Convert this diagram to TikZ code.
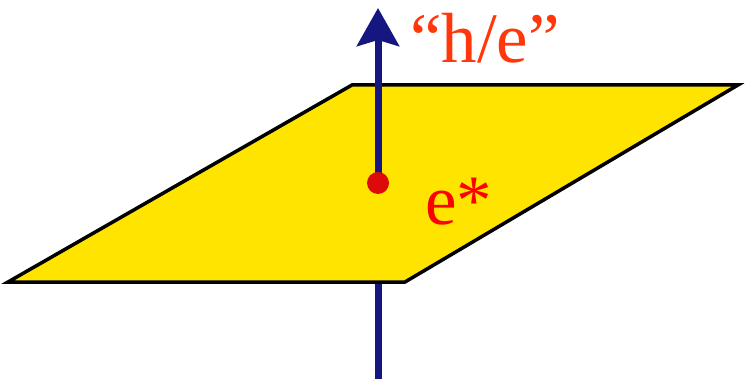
\documentclass[tikz,border=0pt]{standalone}
\usepackage{fontspec}
\setmainfont{Liberation Serif}
\newfontfamily\timesfont{Liberation Serif}
\usetikzlibrary{arrows.meta,positioning}
\definecolor{planeyellow}{RGB}{255,228,0}
\definecolor{arrowblue}{RGB}{22,22,128}
\definecolor{labelred}{RGB}{255,55,10}
\definecolor{dotred}{RGB}{222,10,10}
\tikzset{
  >={Stealth[length=38pt, width=42pt, inset=6pt]},
  axis/.style={arrowblue, line width=7pt},
  plane/.style={fill=planeyellow, draw=black, line width=3.5pt, line join=miter},
  dot/.style={circle, fill=dotred, inner sep=0pt, minimum size=22pt},
  lab/.style={inner sep=0pt, font=\timesfont\fontsize{71}{71}\selectfont},
}

\begin{document}
\begin{tikzpicture}[x=1pt, y=-1pt]
  \useasboundingbox (0,0) rectangle (746,379);

  \coordinate (bottom) at (378,379);
  \coordinate (tip) at (378,8);
  \node[dot] (E) at (378,183) {};

  % part of the axis under the plane
  \draw[axis] (bottom) -- (378,270);

  \draw[plane] (352,85) -- (738,85) -- (405,282) -- (8,282) -- cycle;

  \draw[axis, ->] (E.center) -- (tip);
  \node[dot] at (E) {};

  \node[lab, labelred, anchor=base west] (he) at (410,63) {“h/e”};
  \node[lab, red, anchor=base west] (estar) at (425,225) {e*};
\end{tikzpicture}
\end{document}
